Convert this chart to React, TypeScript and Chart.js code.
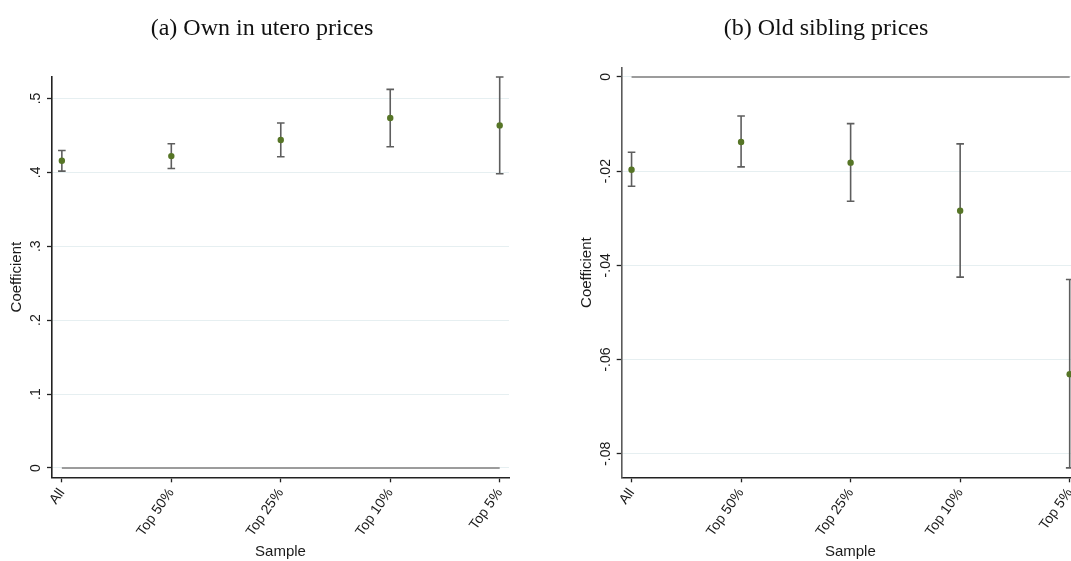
import React, { useEffect, useRef } from "react";
import { Chart, registerables } from "chart.js";

Chart.register(...registerables);

// ---- Data ----
const categories = ["All", "Top 50%", "Top 25%", "Top 10%", "Top 5%"];
const categoryIndex = [0, 1, 2, 3, 4];

// (a) Own in utero prices
const ownCoef = [0.4157, 0.422, 0.4437, 0.4735, 0.4635];
const ownLower = [0.4016, 0.4053, 0.4211, 0.4346, 0.398];
const ownUpper = [0.4295, 0.4387, 0.4667, 0.5122, 0.529];
const ownTicks = [0, 0.1, 0.2, 0.3, 0.4, 0.5];

// (b) Old sibling prices
const sibCoef = [-0.0197, -0.0138, -0.0182, -0.0284, -0.0631];
const sibLower = [-0.0232, -0.0191, -0.0264, -0.0425, -0.083];
const sibUpper = [-0.016, -0.0083, -0.0099, -0.0142, -0.043];
const sibTicks = [0, -0.02, -0.04, -0.06, -0.08];

const titles = ["(a) Own in utero prices", "(b) Old sibling prices"];
const yTitle = "Coefficient";
const xTitle = "Sample";

// ---- Helpers ----
function stataFormat(v: number, decimals: number): string {
  if (Math.abs(v) < 1e-12) return "0";
  return v.toFixed(decimals).replace(/^(-?)0\./, "$1.");
}

const SANS = "'Liberation Sans', Arial, Helvetica, sans-serif";
const SERIF = "'Liberation Serif', 'Times New Roman', serif";
const MARKER = "#567526";
const BAR = "#5e5e5e";

function makeErrorBarPlugin(lower: number[], upper: number[]) {
  return {
    id: "errorBars",
    beforeDatasetsDraw(chart: any) {
      const { ctx } = chart;
      const x = chart.scales.x;
      const y = chart.scales.y;
      ctx.save();
      ctx.strokeStyle = BAR;
      ctx.lineWidth = 1.6;
      const cap = 3.8;
      lower.forEach((lo, i) => {
        const px = x.getPixelForValue(categoryIndex[i]);
        const y1 = y.getPixelForValue(lo);
        const y2 = y.getPixelForValue(upper[i]);
        ctx.beginPath();
        ctx.moveTo(px, y1);
        ctx.lineTo(px, y2);
        ctx.moveTo(px - cap, y1);
        ctx.lineTo(px + cap, y1);
        ctx.moveTo(px - cap, y2);
        ctx.lineTo(px + cap, y2);
        ctx.stroke();
      });
      ctx.restore();
    },
  };
}

function makeRotatedYTicks(decimals: number) {
  return {
    id: "rotYTicks",
    afterDraw(chart: any) {
      const { ctx } = chart;
      const y = chart.scales.y;
      ctx.save();
      ctx.fillStyle = "#1a1a1a";
      ctx.font = `14px ${SANS}`;
      ctx.textAlign = "center";
      ctx.textBaseline = "middle";
      y.ticks.forEach((t: any) => {
        const py = y.getPixelForValue(t.value);
        ctx.save();
        ctx.translate(chart.chartArea.left - 16, py);
        ctx.rotate(-Math.PI / 2);
        ctx.fillText(stataFormat(t.value, decimals), 0, 0);
        ctx.restore();
      });
      ctx.restore();
    },
  };
}

type PanelProps = {
  coef: number[];
  lower: number[];
  upper: number[];
  ticks: number[];
  yMin: number;
  yMax: number;
  decimals: number;
  width: number;
  height: number;
  padLeft: number;
  padRight: number;
  padTop: number;
  yWidth: number;
  xHeight: number;
  yAxisColor: string;
};

function Panel(p: PanelProps) {
  const ref = useRef<HTMLCanvasElement | null>(null);
  useEffect(() => {
    if (!ref.current) return;
    const chart = new Chart(ref.current, {
      type: "scatter",
      data: {
        datasets: [
          {
            type: "scatter",
            data: p.coef.map((v, i) => ({ x: categoryIndex[i], y: v })),
            pointRadius: 3.2,
            pointBackgroundColor: MARKER,
            pointBorderColor: MARKER,
            pointBorderWidth: 0,
            showLine: false,
          } as any,
          {
            type: "line",
            data: [
              { x: categoryIndex[0], y: 0 },
              { x: categoryIndex[categoryIndex.length - 1], y: 0 },
            ],
            borderColor: "#9c9c9c",
            borderWidth: 2,
            pointRadius: 0,
            fill: false,
          } as any,
        ],
      },
      options: {
        responsive: false,
        animation: false,
        events: [],
        layout: {
          padding: { top: p.padTop, left: p.padLeft, right: p.padRight, bottom: 0 },
        },
        plugins: {
          legend: { display: false },
          tooltip: { enabled: false },
          title: { display: false },
        },
        scales: {
          x: {
            type: "linear",
            min: -0.09,
            max: 4.085,
            afterBuildTicks: (scale: any) => {
              scale.ticks = categoryIndex.map((v) => ({ value: v }));
            },
            afterFit: (scale: any) => {
              scale.height = p.xHeight;
            },
            ticks: {
              autoSkip: false,
              minRotation: 55,
              maxRotation: 55,
              padding: 3,
              color: "#1a1a1a",
              font: { family: SANS, size: 14 },
              callback: (value: any) => categories[Math.round(Number(value))] ?? "",
            },
            grid: {
              drawOnChartArea: false,
              drawTicks: true,
              tickLength: 5,
              tickColor: "#222",
              tickWidth: 1.3,
            },
            border: { display: true, color: "#222", width: 1.6 },
            title: {
              display: true,
              text: xTitle,
              color: "#1a1a1a",
              font: { family: SANS, size: 15 },
              padding: { top: 0, bottom: 0 },
            },
          },
          y: {
            type: "linear",
            min: p.yMin,
            max: p.yMax,
            afterBuildTicks: (scale: any) => {
              scale.ticks = p.ticks.map((v) => ({ value: v }));
            },
            afterFit: (scale: any) => {
              scale.width = p.yWidth;
            },
            ticks: { display: false },
            grid: {
              color: "#e6eff1",
              lineWidth: 1,
              drawTicks: true,
              tickLength: 5,
              tickColor: "#222",
              tickWidth: 1.3,
            },
            border: { display: true, color: p.yAxisColor, width: 1.6 },
            title: {
              display: true,
              text: yTitle,
              color: "#1a1a1a",
              font: { family: SANS, size: 15 },
              padding: { top: 8, bottom: 0 },
            },
          },
        },
      },
      plugins: [makeErrorBarPlugin(p.lower, p.upper), makeRotatedYTicks(p.decimals)],
    });
    return () => chart.destroy();
  }, []);
  return (
    <canvas
      ref={ref}
      width={p.width}
      height={p.height}
      style={{ width: p.width, height: p.height, display: "block" }}
    />
  );
}

export default function App() {
  const H = 561;
  return (
    <div
      style={{
        position: "fixed",
        left: 0,
        top: 0,
        width: 1071,
        height: H,
        overflow: "hidden",
        background: "#ffffff",
      }}
    >
      <div style={{ position: "absolute", left: 0, top: 0 }}>
        <Panel
          coef={ownCoef}
          lower={ownLower}
          upper={ownUpper}
          ticks={ownTicks}
          yMin={-0.0126}
          yMax={0.529}
          decimals={1}
          width={540}
          height={H}
          padLeft={0}
          padRight={31}
          padTop={77}
          yWidth={52}
          xHeight={83.7}
          yAxisColor="#222"
        />
      </div>
      <div style={{ position: "absolute", left: 540, top: 0 }}>
        <Panel
          coef={sibCoef}
          lower={sibLower}
          upper={sibUpper}
          ticks={sibTicks}
          yMin={-0.085}
          yMax={0.0019}
          decimals={2}
          width={560}
          height={H}
          padLeft={30}
          padRight={21}
          padTop={68}
          yWidth={51.7}
          xHeight={83.7}
          yAxisColor="#5a5a5a"
        />
      </div>
      <div
        style={{
          position: "absolute",
          left: 262 - 200,
          width: 400,
          top: 13,
          textAlign: "center",
          fontFamily: SERIF,
          fontSize: 24,
          lineHeight: "28px",
          color: "#111",
          whiteSpace: "nowrap",
        }}
      >
        {titles[0]}
      </div>
      <div
        style={{
          position: "absolute",
          left: 826 - 200,
          width: 400,
          top: 13,
          textAlign: "center",
          fontFamily: SERIF,
          fontSize: 24,
          lineHeight: "28px",
          color: "#111",
          whiteSpace: "nowrap",
        }}
      >
        {titles[1]}
      </div>
    </div>
  );
}
